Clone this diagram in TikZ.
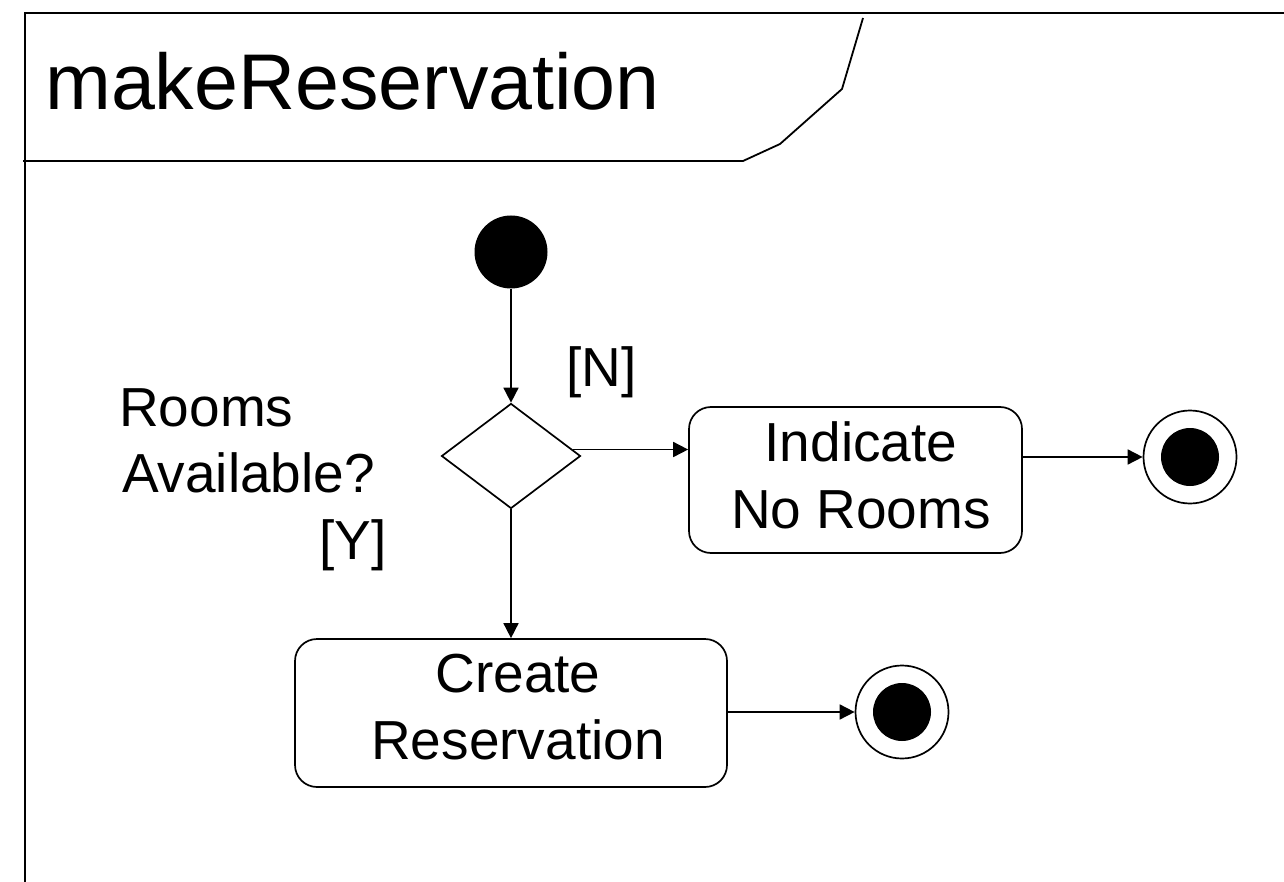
\documentclass[tikz,border=0pt]{standalone}
\usepackage{fontspec}
\setmainfont{Liberation Sans}
\usetikzlibrary{arrows.meta,shapes.geometric}
\begin{document}
\begin{tikzpicture}[x=1pt,y=-1pt,
  frameline/.style={line width=2.2pt},
  tabline/.style={line width=1.8pt, line join=round},
  action/.style={draw, line width=1.7pt, rectangle, rounded corners=22pt, inner sep=0pt},
  actiontext/.style={align=center, inner sep=0pt, font=\fontsize{55}{67}\selectfont},
  guard/.style={inner sep=0pt, anchor=base west, font=\fontsize{55}{67}\selectfont},
  flow/.style={line width=1.7pt, -{Triangle[length=15pt,width=15pt]}},
  startdot/.style={circle, fill=black, minimum size=73pt, inner sep=0pt},
  endring/.style={circle, draw, line width=1.7pt, minimum size=93pt, inner sep=0pt},
  endcore/.style={circle, fill=black, minimum size=58pt, inner sep=0pt},
  decision/.style={diamond, draw, line width=1.7pt, minimum width=139pt,
    minimum height=105pt, aspect=1.32, inner sep=0pt}
]
\path[fill=white] (0,0) rectangle (1284,882);
\useasboundingbox (0,0) rectangle (1284,882);

% activity frame and name tab
\draw[frameline] (25,882) -- (25,13) -- (1284,13);
\draw[tabline] (23,161) -- (743,161) -- (780,144) -- (842,89) -- (863,18);
\node[inner sep=0pt, anchor=base west, font=\fontsize{79}{90}\selectfont]
  (title) at (45,110) {makeReservation};

% nodes
\node[startdot] (init) at (511,252) {};
\node[decision] (dec) at (511,456) {};
\node[action, minimum width=432pt, minimum height=148pt] (create) at (511,713) {};
\node[actiontext] (createtxt) at (518,707) {Create\\Reservation};
\node[action, minimum width=333pt, minimum height=146pt] (norooms) at (855.5,480) {};
\node[actiontext] (noroomstxt) at (861,475) {Indicate\\No Rooms};
\node[endring] (endA) at (1190,457) {};
\node[endcore] (endAcore) at (endA) {};
\node[endring] (endB) at (902,712) {};
\node[endcore] (endBcore) at (endB) {};

% guard and decision texts
\node[guard] (q1) at (119,426) {Rooms};
\node[guard] (q2) at (122,492) {Available?};
\node[guard] (gn) at (566.5,386) {[N]};
\node[guard] (gy) at (319.5,559) {[Y]};

% transitions
\draw[flow] (init) -- (dec.north);
\draw[flow] (dec.6) -- (dec.6 -| norooms.west);
\draw[flow] (norooms.east |- endA) -- (endA);
\draw[flow] (dec.south) -- (dec.south |- create.north);
\draw[flow] (create.east |- endB) -- (endB);
\end{tikzpicture}
\end{document}
